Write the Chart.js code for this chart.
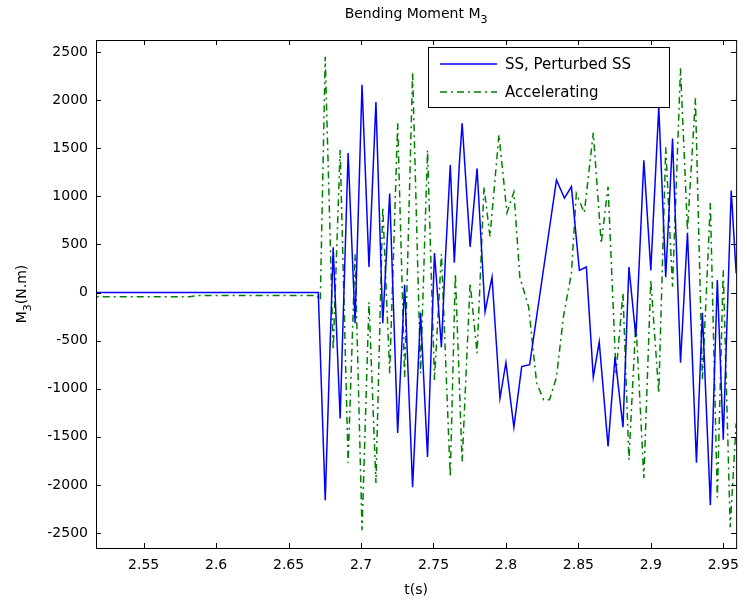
<!DOCTYPE html>
<html>
<head>
<meta charset="utf-8">
<script src="https://cdn.jsdelivr.net/npm/chart.js@4.4.0/dist/chart.umd.min.js"></script>
<style>
  body { margin: 0; background: #fff; }
</style>
</head>
<body>
<canvas id="chart" width="748" height="604"></canvas>
<script>
// 資料
var ssTime = [2.510, 2.6705, 2.6753, 2.6808, 2.6856, 2.6911, 2.6959, 2.7007, 2.7055, 2.7103, 2.7150, 2.7198,
  2.7253, 2.7301, 2.7356, 2.7411, 2.7459, 2.7507, 2.7555, 2.7582, 2.7616, 2.7644, 2.7678, 2.7698, 2.7753,
  2.7801, 2.7856, 2.7904, 2.7959, 2.8000, 2.8055, 2.8109, 2.8164, 2.8349, 2.8404, 2.8452, 2.8507, 2.8555,
  2.8603, 2.8644, 2.8705, 2.8753, 2.8808, 2.8849, 2.8897, 2.8952, 2.9000, 2.9055, 2.9103, 2.9150, 2.9205,
  2.9253, 2.9315, 2.9356, 2.9411, 2.9459, 2.9500, 2.9555, 2.9589];
var ssValue = [0, 0, -2160, 470, -1310, 1450, -320, 2160, 265, 1980, -320, 1030,
  -1460, 80, -2025, -210, -1710, 410, -570, 340, 1325, 310, 1325, 1760, 475,
  1290, -200, 160, -1100, -730, -1400, -770, -750, 1170, 980, 1100, 230, 265,
  -880, -515, -1600, -670, -1400, 265, -465, 1375, 230, 1930, 160, 1600, -730,
  620, -1770, -210, -2210, 130, -1530, 1060, 200];

var accTime = [2.510, 2.5815, 2.5883, 2.6692, 2.6719, 2.6753, 2.6808, 2.6856, 2.6911, 2.6959, 2.7007, 2.7055,
  2.7103, 2.7150, 2.7198, 2.7253, 2.7301, 2.7356, 2.7411, 2.7459, 2.7507, 2.7555, 2.7616, 2.7651, 2.7698,
  2.7753, 2.7801, 2.7849, 2.7890, 2.7952, 2.8007, 2.8055, 2.8096, 2.8157, 2.8212, 2.8260, 2.8301, 2.8349,
  2.8397, 2.8452, 2.8486, 2.8541, 2.8603, 2.8658, 2.8705, 2.8760, 2.8808, 2.8849, 2.8897, 2.8952, 2.9000,
  2.9055, 2.9103, 2.9150, 2.9205, 2.9253, 2.9308, 2.9356, 2.9411, 2.9459, 2.9500, 2.9548, 2.9589];
var accValue = [-45, -45, -30, -30, -80, 2450, -600, 1480, -1770, 400, -2470, -100,
  -1980, 890, -840, 1760, -880, 2290, -840, 1480, -910, 400, -1920, 200, -1760,
  100, -630, 1100, 580, 1640, 830, 1045, 160, -150, -940, -1115, -1115, -880,
  -250, 200, 1030, 830, 1660, 510, 1100, -840, -5, -1740, -300, -1930, 130,
  -1050, 1510, 60, 2330, 650, 2020, -910, 930, -2130, 230, -2440, -1360];

var xTicks = [2.55, 2.6, 2.65, 2.7, 2.75, 2.8, 2.85, 2.9, 2.95];
var xTickLabels = ['2.55', '2.6', '2.65', '2.7', '2.75', '2.8', '2.85', '2.9', '2.95'];
var yTicks = [-2500, -2000, -1500, -1000, -500, 0, 500, 1000, 1500, 2000, 2500];

var FONT = 'DejaVu Sans';

function toPoints(ts, vs) {
  return ts.map(function (t, i) { return { x: t, y: vs[i] }; });
}

// 外框、內側刻度、圖例、標題
var matlabPlugin = {
  id: 'matlab',
  afterDraw: function (chart) {
    var ctx = chart.ctx;
    var a = chart.chartArea;
    var xs = chart.scales.x, ys = chart.scales.y;
    ctx.save();
    ctx.strokeStyle = '#000';
    ctx.lineWidth = 1;
    ctx.strokeRect(a.left + 0.5, a.top + 0.5, a.right - a.left, a.bottom - a.top);
    ctx.beginPath();
    xTicks.forEach(function (v) {
      var px = Math.round(xs.getPixelForValue(v)) + 0.5;
      ctx.moveTo(px, a.bottom); ctx.lineTo(px, a.bottom - 5);
      ctx.moveTo(px, a.top); ctx.lineTo(px, a.top + 5);
    });
    yTicks.forEach(function (v) {
      var py = Math.round(ys.getPixelForValue(v)) + 0.5;
      ctx.moveTo(a.left, py); ctx.lineTo(a.left + 5, py);
      ctx.moveTo(a.right, py); ctx.lineTo(a.right - 5, py);
    });
    ctx.stroke();

    // legend
    ctx.fillStyle = '#fff';
    ctx.fillRect(428, 47, 241, 60);
    ctx.strokeRect(428.5, 47.5, 241, 60);
    ctx.lineWidth = 1.5;
    ctx.strokeStyle = '#0000ff';
    ctx.beginPath(); ctx.moveTo(440, 64); ctx.lineTo(497, 64); ctx.stroke();
    ctx.strokeStyle = '#008000';
    ctx.setLineDash([7, 4, 2, 4]);
    ctx.beginPath(); ctx.moveTo(440, 92); ctx.lineTo(497, 92); ctx.stroke();
    ctx.setLineDash([]);
    ctx.fillStyle = '#000';
    ctx.font = '15px "' + FONT + '"';
    ctx.textBaseline = 'middle';
    ctx.textAlign = 'left';
    ctx.fillText('SS, Perturbed SS', 505, 65);
    ctx.fillText('Accelerating', 505, 93);

    // title
    ctx.font = '14px "' + FONT + '"';
    var main = 'Bending Moment M';
    var w = ctx.measureText(main).width;
    ctx.font = '11px "' + FONT + '"';
    var ws = ctx.measureText('3').width;
    var x0 = (a.left + a.right) / 2 - (w + ws) / 2;
    ctx.font = '14px "' + FONT + '"';
    ctx.fillText(main, x0, 14);
    ctx.font = '11px "' + FONT + '"';
    ctx.fillText('3', x0 + w, 20);

    // x label
    ctx.font = '14px "' + FONT + '"';
    ctx.textAlign = 'center';
    ctx.fillText('t(s)', (a.left + a.right) / 2, 590);

    // y label
    ctx.translate(22, (a.top + a.bottom) / 2);
    ctx.rotate(-Math.PI / 2);
    ctx.textAlign = 'left';
    var p1 = 'M', p2 = '3', p3 = '(N.m)';
    ctx.font = '14px "' + FONT + '"';
    var w1 = ctx.measureText(p1).width, w3 = ctx.measureText(p3).width;
    ctx.font = '11px "' + FONT + '"';
    var w2 = ctx.measureText(p2).width;
    var sx = -(w1 + w2 + w3) / 2;
    ctx.font = '14px "' + FONT + '"';
    ctx.fillText(p1, sx, 0);
    ctx.font = '11px "' + FONT + '"';
    ctx.fillText(p2, sx + w1, 6);
    ctx.font = '14px "' + FONT + '"';
    ctx.fillText(p3, sx + w1 + w2, 0);
    ctx.restore();
  }
};

var ctx = document.getElementById('chart').getContext('2d');
new Chart(ctx, {
  type: 'line',
  data: {
    datasets: [{
      label: 'SS, Perturbed SS',
      data: toPoints(ssTime, ssValue),
      borderColor: '#0000ff',
      borderWidth: 1.5,
      pointRadius: 0,
      tension: 0,
      fill: false
    }, {
      label: 'Accelerating',
      data: toPoints(accTime, accValue),
      borderColor: '#008000',
      borderWidth: 1.5,
      borderDash: [7, 4, 2, 4],
      pointRadius: 0,
      tension: 0,
      fill: false
    }]
  },
  options: {
    responsive: false,
    animation: false,
    layout: { padding: { top: 40, right: 8, left: 0, bottom: 0 } },
    plugins: { legend: { display: false }, tooltip: { enabled: false }, title: { display: false } },
    scales: {
      x: {
        type: 'linear',
        min: 2.5171,
        max: 2.9589,
        afterBuildTicks: function (scale) { scale.ticks = xTicks.map(function (v) { return { value: v }; }); },
        afterFit: function (scale) { scale.height = 56; },
        ticks: {
          color: '#000',
          font: { family: FONT, size: 14 },
          padding: 9,
          maxRotation: 0,
          autoSkip: false,
          callback: function (v) { return xTickLabels[xTicks.indexOf(v)]; }
        },
        grid: { drawOnChartArea: false, drawTicks: false },
        border: { display: false }
      },
      y: {
        type: 'linear',
        min: -2656,
        max: 2625,
        afterBuildTicks: function (scale) { scale.ticks = yTicks.map(function (v) { return { value: v }; }); },
        afterFit: function (scale) { scale.width = 96; },
        ticks: {
          color: '#000',
          font: { family: FONT, size: 14 },
          padding: 8,
          autoSkip: false,
          callback: function (v) { return String(v); }
        },
        grid: { drawOnChartArea: false, drawTicks: false },
        border: { display: false }
      }
    }
  },
  plugins: [matlabPlugin]
});
</script>
</body>
</html>
